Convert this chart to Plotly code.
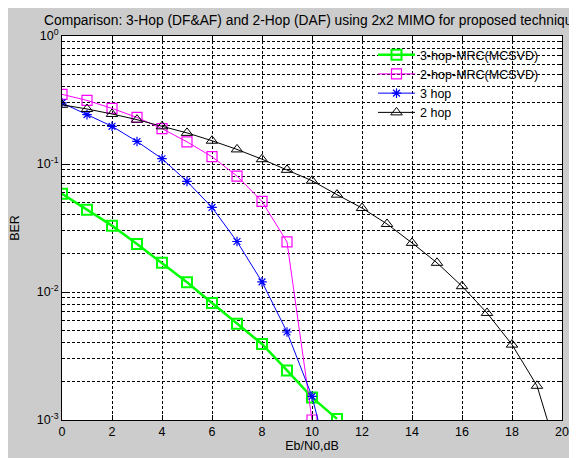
import plotly.graph_objects as go

ebn0 = list(range(0, 21))

ber_3hop_mrc = [0.0586, 0.0440, 0.0330, 0.0237, 0.0169, 0.0119, 0.0082, 0.00565,
                0.00393, 0.00244, 0.00150, 0.00102]
ber_2hop_mrc = [0.350, 0.314, 0.272, 0.231, 0.189, 0.149, 0.114, 0.0805,
                0.051, 0.0246, 0.0010]
ber_3hop = [0.300, 0.243, 0.197, 0.150, 0.110, 0.0731, 0.0458, 0.0248,
            0.0120, 0.00487, 0.00153, 0.00026]
ber_2hop = [0.290, 0.269, 0.246, 0.222, 0.197, 0.175, 0.152, 0.130, 0.109,
            0.090, 0.074, 0.0576, 0.0453, 0.034, 0.0242, 0.0169, 0.0111,
            0.00686, 0.00388, 0.00185, 0.00042]

names = ["3-hop-MRC(MCSVD)", "2-hop-MRC(MCSVD)", "3 hop", "2 hop"]
x_ticks = [0, 2, 4, 6, 8, 10, 12, 14, 16, 18, 20]
y_ticks = [1e-3, 1e-2, 1e-1, 1]
y_ticktext = ["10<sup>-3</sup>", "10<sup>-2</sup>", "10<sup>-1</sup>", "10<sup>0</sup>"]
y_minor = [m * d for d in [1e-3, 1e-2, 1e-1] for m in range(2, 10)]

FONT = "Liberation Sans, Arial, sans-serif"

# the page body margin (8px) provides the white strip at top/left
W, H = 569, 450
L, R, T, B = 54, 15, 28, 38
PW = W - L - R
PH = H - T - B

fig = go.Figure()
fig.add_trace(go.Scatter(
    x=ebn0[:len(ber_3hop_mrc)], y=ber_3hop_mrc, name=names[0], mode="lines+markers",
    line=dict(color="#00ff00", width=2.5),
    marker=dict(symbol="square-open", size=10, color="#00ff00", line=dict(width=2)),
    cliponaxis=True))
fig.add_trace(go.Scatter(
    x=ebn0[:len(ber_2hop_mrc)], y=ber_2hop_mrc, name=names[1], mode="lines+markers",
    line=dict(color="#ff00ff", width=1),
    marker=dict(symbol="square-open", size=10, color="#ff00ff", line=dict(width=1.2)),
    cliponaxis=True))
fig.add_trace(go.Scatter(
    x=ebn0[:len(ber_3hop)], y=ber_3hop, name=names[2], mode="lines+markers",
    line=dict(color="#0000ff", width=1),
    marker=dict(symbol="asterisk-open", size=8, color="#0000ff", line=dict(width=1.2, color="#0000ff")),
    cliponaxis=True))
fig.add_trace(go.Scatter(
    x=ebn0[:len(ber_2hop)], y=ber_2hop, name=names[3], mode="lines+markers",
    line=dict(color="#000000", width=1),
    marker=dict(symbol="triangle-up-open", size=10, color="#000000", line=dict(width=1)),
    cliponaxis=True))

grid_dash = "3px,2px"

fig.update_layout(
    width=W, height=H,
    margin=dict(l=L, r=R, t=T, b=B, autoexpand=False),
    paper_bgcolor="#cccccc",
    plot_bgcolor="#ffffff",
    font=dict(family=FONT, size=12, color="#000000"),
    title=dict(text="Comparison: 3-Hop (DF&AF) and 2-Hop (DAF) using 2x2 MIMO for proposed technique",
               x=(L + PW / 2) / W, xref="container", xanchor="center",
               y=1 - 12 / H, yref="container", yanchor="middle",
               font=dict(size=13.8, family=FONT), automargin=False),
    showlegend=True,
    legend=dict(x=(365 - L) / PW, y=(H - B - 32) / PH, xanchor="left", yanchor="top",
                bgcolor="rgba(0,0,0,0)", borderwidth=0, itemwidth=37,
                font=dict(size=12.5, family=FONT), tracegroupgap=0),
)

fig.update_xaxes(
    range=[0, 20], tickvals=x_ticks, ticks="inside", ticklen=5, tickcolor="#000000",
    showline=True, linecolor="#000000", linewidth=1, mirror="ticks",
    showgrid=True, gridcolor="#000000", griddash=grid_dash, gridwidth=1,
    zeroline=False, tickfont=dict(size=12.5), automargin=False,
    title=dict(text="Eb/N0,dB", font=dict(size=12.5), standoff=0),
)
fig.update_yaxes(
    type="log", range=[-3, 0], tickvals=y_ticks, ticktext=y_ticktext,
    ticks="inside", ticklen=5, tickcolor="#000000",
    showline=True, linecolor="#000000", linewidth=1, mirror="ticks",
    showgrid=True, gridcolor="#000000", griddash=grid_dash, gridwidth=1,
    zeroline=False, tickfont=dict(size=12.5), automargin=False,
    minor=dict(tickmode="array", tickvals=y_minor, ticks="inside", ticklen=3,
               tickcolor="#000000", showgrid=True, gridcolor="#000000",
               griddash=grid_dash, gridwidth=1),
    title=dict(text="BER", font=dict(size=12.5), standoff=18),
)

fig.write_html("out.html")
